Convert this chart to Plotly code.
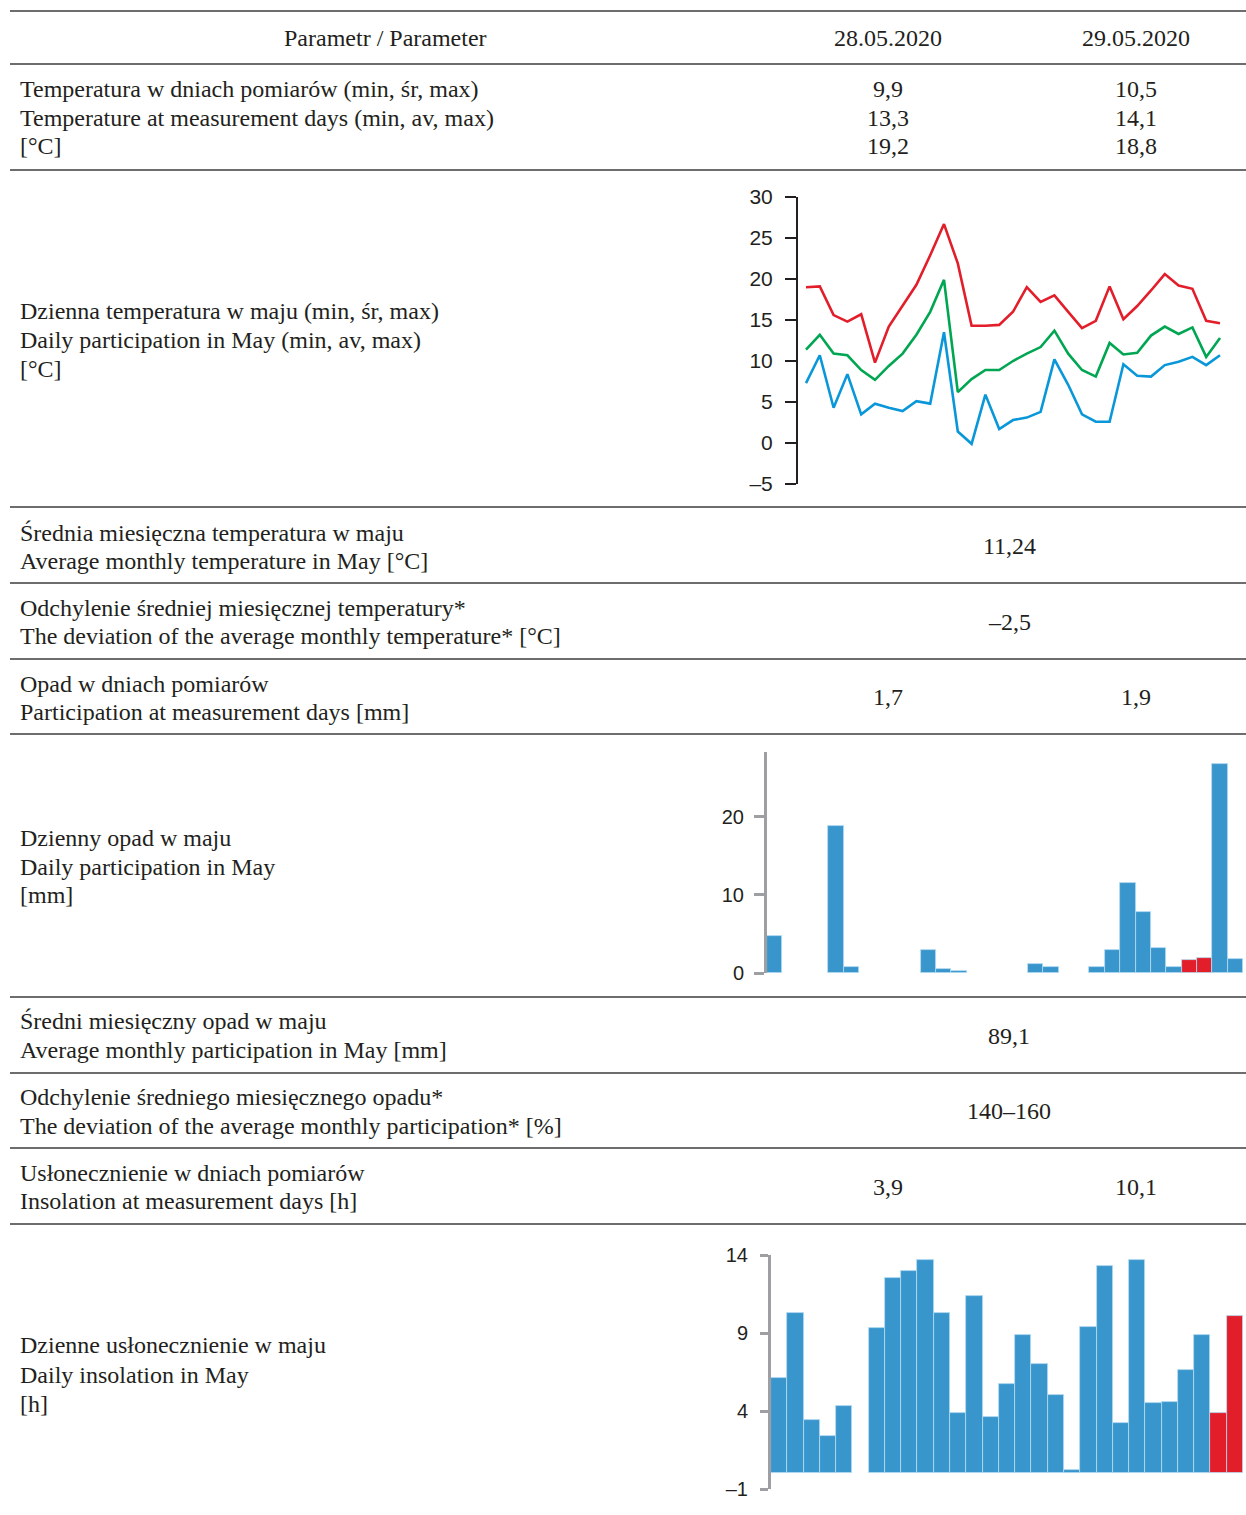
import plotly.graph_objects as go

W, H = 1246, 1515

# ---------------- data ----------------
days = list(range(1, 32))
t_max = [19.0, 19.1, 15.6, 14.8, 15.7, 9.8, 14.2, 16.7, 19.3, 22.9, 26.7, 21.9, 14.3, 14.3, 14.4,
         16.0, 19.0, 17.2, 18.0, 16.0, 14.0, 14.9, 19.1, 15.1, 16.7, 18.6, 20.6, 19.2, 18.8, 14.9, 14.6]
t_avg = [11.4, 13.2, 10.9, 10.7, 8.9, 7.7, 9.4, 10.9, 13.2, 16.0, 19.9, 6.2, 7.8, 8.9, 8.9,
         10.0, 10.9, 11.7, 13.7, 10.9, 8.9, 8.1, 12.2, 10.8, 11.0, 13.1, 14.2, 13.3, 14.1, 10.5, 12.8]
t_min = [7.3, 10.7, 4.3, 8.4, 3.5, 4.8, 4.3, 3.9, 5.1, 4.8, 13.5, 1.4, -0.1, 5.9, 1.7,
         2.8, 3.1, 3.8, 10.2, 7.1, 3.5, 2.6, 2.6, 9.6, 8.2, 8.1, 9.5, 9.9, 10.5, 9.5, 10.7]

precip = [4.8, 0, 0, 0, 18.8, 0.8, 0, 0, 0, 0, 2.9, 0.5, 0.2, 0, 0, 0, 0, 1.2, 0.8, 0, 0,
          0.8, 2.9, 11.5, 7.8, 3.2, 0.8, 1.7, 1.9, 26.8, 1.8]

ins_days = list(range(1, 30))
insolation = [6.1, 10.3, 3.4, 2.4, 4.3, 0, 9.3, 12.5, 13.0, 13.7, 10.3, 3.9, 11.4, 3.6, 5.7,
              8.9, 7.0, 5.0, 0.2, 9.4, 13.3, 3.2, 13.7, 4.5, 4.6, 6.6, 8.9, 3.9, 10.1]

measurement_days = [28, 29]

temp_ticks = [-5, 0, 5, 10, 15, 20, 25, 30]
temp_ticktext = ["–5", "0", "5", "10", "15", "20", "25", "30"]
precip_ticks = [0, 10, 20]
ins_ticks = [-1, 4, 9, 14]
ins_ticktext = ["–1", "4", "9", "14"]

header = ["Parametr / Parameter", "28.05.2020", "29.05.2020"]

# ---------------- styling ----------------
TXT = "#231f20"
RED = "#e31e2b"
GREEN = "#00a651"
BLUE_LINE = "#0a97d9"
BLUE_BAR = "#3896cd"
GREY_AX = "#9d9fa2"
SERIF = "Liberation Serif"
SANS = "Liberation Sans"


def px(x):
    return x / W


def py(y):
    return 1 - y / H


fig = go.Figure()

fig.add_trace(go.Scatter(x=days, y=t_max, mode="lines", line=dict(color=RED, width=2.6),
                         xaxis="x", yaxis="y", showlegend=False))
fig.add_trace(go.Scatter(x=days, y=t_avg, mode="lines", line=dict(color=GREEN, width=2.6),
                         xaxis="x", yaxis="y", showlegend=False))
fig.add_trace(go.Scatter(x=days, y=t_min, mode="lines", line=dict(color=BLUE_LINE, width=2.6),
                         xaxis="x", yaxis="y", showlegend=False))

p_colors = [RED if d in measurement_days else BLUE_BAR for d in days]
p_lw = [0.8 if v else 0 for v in precip]
fig.add_trace(go.Bar(x=days, y=precip,
                     marker=dict(color=p_colors, line=dict(color="#b5dcf2", width=p_lw)),
                     xaxis="x2", yaxis="y2", showlegend=False))

i_colors = [RED if d in measurement_days else BLUE_BAR for d in ins_days]
i_lw = [0.8 if v else 0 for v in insolation]
fig.add_trace(go.Bar(x=ins_days, y=insolation,
                     marker=dict(color=i_colors, line=dict(color="#b5dcf2", width=i_lw)),
                     xaxis="x3", yaxis="y3", showlegend=False))

fig.update_layout(
    width=W, height=H,
    margin=dict(l=0, r=0, t=0, b=0, pad=0, autoexpand=False),
    paper_bgcolor="white", plot_bgcolor="rgba(0,0,0,0)",
    bargap=0, showlegend=False,
    xaxis=dict(domain=[px(798), px(1228)], range=[0.42, 31.58], visible=False, automargin=False),
    yaxis=dict(domain=[py(484), py(197)], range=[-5, 30], anchor="x", automargin=False,
               showline=True, linecolor=TXT, linewidth=2, ticks="outside", ticklen=11,
               tickwidth=2, tickcolor=TXT, tickvals=temp_ticks, ticktext=temp_ticktext,
               showgrid=False, zeroline=False, tickfont=dict(family=SANS, size=21, color=TXT),
               ticklabelstandoff=8),
    xaxis2=dict(domain=[px(767), px(1243)], range=[0.5, 31.5], visible=False, automargin=False),
    yaxis2=dict(domain=[py(973), py(752)], range=[0, 28.3], anchor="x2", automargin=False,
                showline=True, linecolor=GREY_AX, linewidth=3, ticks="outside", ticklen=10,
                tickwidth=3, tickcolor=GREY_AX, tickvals=precip_ticks,
                showgrid=False, zeroline=False, tickfont=dict(family=SANS, size=20, color=TXT),
                ticklabelstandoff=6),
    xaxis3=dict(domain=[px(771), px(1243)], range=[0.5, 29.5], visible=False, automargin=False),
    yaxis3=dict(domain=[py(1489), py(1255)], range=[-1, 14], anchor="x3", automargin=False,
                showline=True, linecolor=GREY_AX, linewidth=3, ticks="outside", ticklen=8,
                tickwidth=3, tickcolor=GREY_AX, tickvals=ins_ticks, ticktext=ins_ticktext,
                showgrid=False, zeroline=False, tickfont=dict(family=SANS, size=20, color=TXT),
                ticklabelstandoff=8),
)

for yy in [11, 64, 170, 507, 583, 659, 734, 997, 1073, 1148, 1224]:
    fig.add_shape(type="line", xref="paper", yref="paper", x0=px(10), x1=1, y0=py(yy), y1=py(yy),
                  line=dict(color="#3c3c3c", width=1.4))

FS = 24


def txt(x, y, s, anchor="left"):
    fig.add_annotation(x=px(x), y=py(y), xref="paper", yref="paper", text=s, showarrow=False,
                       xanchor=anchor, yanchor="middle",
                       font=dict(family=SERIF, size=FS, color=TXT))


txt(385, 38, header[0], "center")
txt(888, 38, header[1], "center")
txt(1136, 38, header[2], "center")

rows = [
    ([(89, "Temperatura w dniach pomiarów (min, śr, max)"),
      (118, "Temperature at measurement days (min, av, max)"),
      (146, "[°C]")]),
    ([(311, "Dzienna temperatura w maju (min, śr, max)"),
      (340, "Daily participation in May (min, av, max)"),
      (369, "[°C]")]),
    ([(533, "Średnia miesięczna temperatura w maju"),
      (561, "Average monthly temperature in May [°C]")]),
    ([(608, "Odchylenie średniej miesięcznej temperatury*"),
      (636, "The deviation of the average monthly temperature* [°C]")]),
    ([(684, "Opad w dniach pomiarów"),
      (712, "Participation at measurement days [mm]")]),
    ([(838, "Dzienny opad w maju"),
      (867, "Daily participation in May"),
      (895, "[mm]")]),
    ([(1021, "Średni miesięczny opad w maju"),
      (1050, "Average monthly participation in May [mm]")]),
    ([(1097, "Odchylenie średniego miesięcznego opadu*"),
      (1126, "The deviation of the average monthly participation* [%]")]),
    ([(1173, "Usłonecznienie w dniach pomiarów"),
      (1201, "Insolation at measurement days [h]")]),
    ([(1345, "Dzienne usłonecznienie w maju"),
      (1375, "Daily insolation in May"),
      (1404, "[h]")]),
]
for r in rows:
    for yy, s in r:
        txt(18, yy, s)

vals_two = [
    (89, "9,9", "10,5"), (118, "13,3", "14,1"), (146, "19,2", "18,8"),
    (697, "1,7", "1,9"), (1187, "3,9", "10,1"),
]
for yy, a, b in vals_two:
    txt(888, yy, a, "center")
    txt(1136, yy, b, "center")

vals_one = [(546, "11,24"), (622, "–2,5"), (1036, "89,1"), (1111, "140–160")]
for yy, s in vals_one:
    txt(1009, yy, s, "center")

fig.write_html(
    "out.html",
    config={"displayModeBar": False},
    post_script="document.body.style.margin='0';document.body.style.overflow='hidden';",
)
